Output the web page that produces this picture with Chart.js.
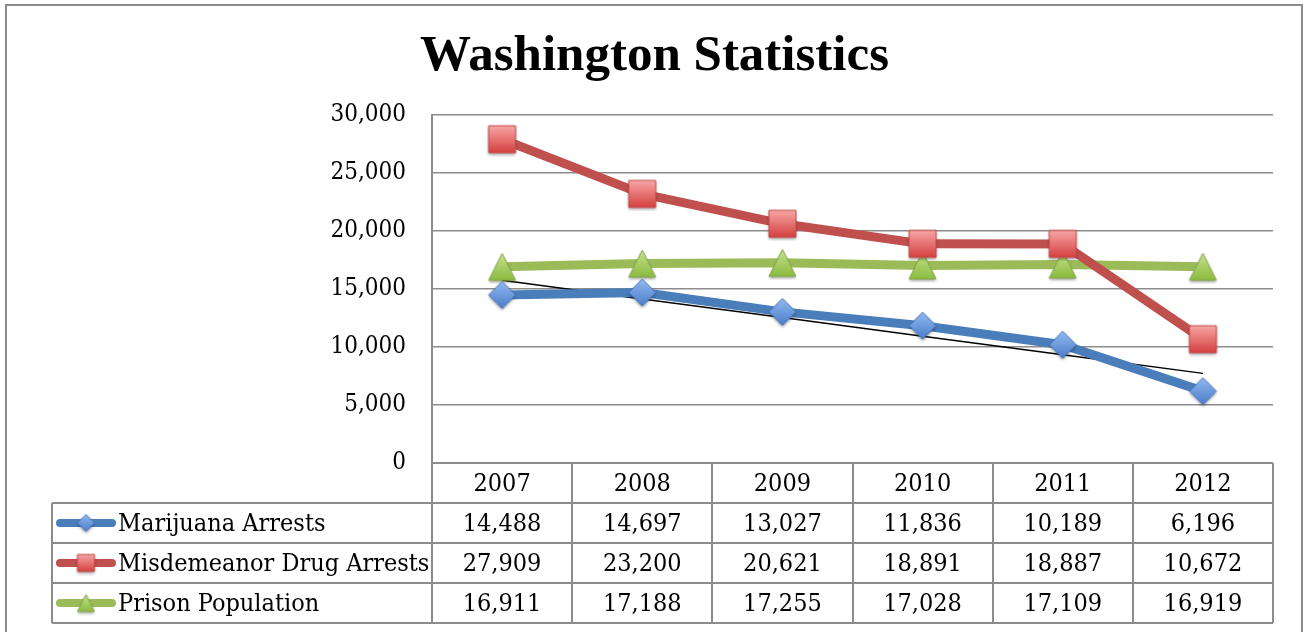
<!DOCTYPE html>
<html>
<head>
<meta charset="utf-8">
<title>Washington Statistics</title>
<script src="https://cdn.jsdelivr.net/npm/chart.js@4/dist/chart.umd.min.js"></script>
<style>
  html, body { margin: 0; padding: 0; background: #fff; }
  #wrap { width: 1304px; height: 632px; }
</style>
</head>
<body>
<div id="wrap"><canvas id="chart" width="1304" height="632"></canvas></div>
<script>
// ---- data ----
const years = ['2007', '2008', '2009', '2010', '2011', '2012'];
const marijuanaArrests = [14488, 14697, 13027, 11836, 10189, 6196];
const misdemeanorArrests = [27909, 23200, 20621, 18891, 18887, 10672];
const prisonPopulation = [16911, 17188, 17255, 17028, 17109, 16919];
const seriesNames = ['Marijuana Arrests', 'Misdemeanor Drug Arrests', 'Prison Population'];
const yTicks = [0, 5000, 10000, 15000, 20000, 25000, 30000];

const FONT = "'DejaVu Serif Condensed', 'DejaVu Serif', serif";
const TITLE_FONT = "'Liberation Serif', 'DejaVu Serif', serif";
const GRID = '#8c8c8c';
const COLORS = ['#4a7ebb', '#c0504d', '#9bbb59'];

// least squares trendline (same as the spreadsheet's linear trend)
function linearFit(values) {
    const n = values.length;
    const mx = (n - 1) / 2;
    const my = values.reduce((a, b) => a + b, 0) / n;
    let sxy = 0, sxx = 0;
    values.forEach((v, i) => { sxy += (i - mx) * (v - my); sxx += (i - mx) * (i - mx); });
    const slope = sxy / sxx;
    return values.map((v, i) => my + slope * (i - mx));
}

// marker images with a light gradient, like the office default
function makeMarker(shape, size, top, bottom, stroke) {
    const pad = 4;
    const c = document.createElement('canvas');
    c.width = size + pad * 2;
    c.height = size + pad * 2;
    const g = c.getContext('2d');
    const x0 = pad, y0 = pad, s = size;
    g.beginPath();
    if (shape === 'diamond') {
        g.moveTo(x0 + s / 2, y0);
        g.lineTo(x0 + s, y0 + s / 2);
        g.lineTo(x0 + s / 2, y0 + s);
        g.lineTo(x0, y0 + s / 2);
    } else if (shape === 'square') {
        g.rect(x0, y0, s, s);
    } else {
        g.moveTo(x0 + s / 2, y0);
        g.lineTo(x0 + s, y0 + s);
        g.lineTo(x0, y0 + s);
    }
    g.closePath();
    const grad = g.createLinearGradient(0, y0, 0, y0 + s);
    grad.addColorStop(0, top);
    grad.addColorStop(1, bottom);
    g.save();
    g.shadowColor = 'rgba(0,0,0,0.35)';
    g.shadowBlur = 3;
    g.shadowOffsetY = 2;
    g.fillStyle = grad;
    g.fill();
    g.restore();
    g.lineWidth = 1;
    g.strokeStyle = stroke;
    g.stroke();
    return c;
}

const markerDefs = [
    ['diamond', '#93b9ee', '#4a7dcc', '#4272b6'],
    ['square', '#f8a6a6', '#d43f3f', '#c24a4a'],
    ['triangle', '#c8e190', '#8abb3e', '#84a64a']
];
const bigMarkers = markerDefs.map(d => makeMarker(d[0], 27, d[1], d[2], d[3]));
const smallMarkers = markerDefs.map(d => makeMarker(d[0], 17, d[1], d[2], d[3]));

const seriesData = [marijuanaArrests, misdemeanorArrests, prisonPopulation];

// ---- plugins ----
const frame = {
    id: 'frame',
    beforeDraw(chart) {
        const ctx = chart.ctx;
        ctx.save();
        ctx.fillStyle = '#fff';
        ctx.fillRect(0, 0, chart.width, chart.height);
        ctx.strokeStyle = GRID;
        ctx.lineWidth = 2;
        ctx.strokeRect(6, 5, 1296, 700);
        ctx.restore();
    }
};

const dataTable = {
    id: 'dataTable',
    afterDraw(chart) {
        const ctx = chart.ctx;
        const area = chart.chartArea;
        const colW = (area.right - area.left) / years.length;
        const rowH = 40;
        const top = area.bottom;
        const tableLeft = 52;
        const bottom = top + rowH * 4;

        ctx.save();
        ctx.strokeStyle = GRID;
        ctx.lineWidth = 2;
        ctx.beginPath();
        // horizontal rules
        ctx.moveTo(area.left, top); ctx.lineTo(area.right, top);
        for (let r = 1; r <= 4; r++) {
            ctx.moveTo(tableLeft, top + r * rowH);
            ctx.lineTo(area.right, top + r * rowH);
        }
        // vertical rules
        ctx.moveTo(tableLeft, top + rowH); ctx.lineTo(tableLeft, bottom);
        for (let c = 0; c <= years.length; c++) {
            const x = Math.round(area.left + c * colW);
            ctx.moveTo(x, top); ctx.lineTo(x, bottom);
        }
        ctx.stroke();

        ctx.fillStyle = '#000';
        ctx.font = '25px ' + FONT;
        ctx.textBaseline = 'middle';
        ctx.textAlign = 'center';
        years.forEach((y, i) => {
            const x = chart.scales.x.getPixelForValue(i);
            ctx.fillText(y, x, top + rowH / 2 + 1);
            seriesData.forEach((vals, s) => {
                ctx.fillText(vals[i].toLocaleString('en-US'), x, top + rowH * (s + 1.5) + 1);
            });
        });

        // legend keys
        seriesNames.forEach((name, s) => {
            const cy = top + rowH * (s + 1.5);
            ctx.strokeStyle = COLORS[s];
            ctx.lineWidth = 8;
            ctx.lineCap = 'round';
            ctx.beginPath();
            ctx.moveTo(60, cy); ctx.lineTo(112, cy);
            ctx.stroke();
            const m = smallMarkers[s];
            ctx.drawImage(m, 86 - m.width / 2, cy - m.height / 2);
            ctx.textAlign = 'left';
            ctx.fillStyle = '#000';
            ctx.fillText(name, 118, cy + 1);
        });
        ctx.restore();
    }
};

const seriesDatasets = seriesData.map((vals, s) => ({
    label: seriesNames[s],
    data: vals,
    borderColor: COLORS[s],
    backgroundColor: COLORS[s],
    borderWidth: 9,
    borderJoinStyle: 'round',
    borderCapStyle: 'round',
    pointStyle: bigMarkers[s],
    pointRadius: 14,
    pointHoverRadius: 14,
    tension: 0
}));

const trendDatasets = [marijuanaArrests, prisonPopulation].map(vals => ({
    label: 'trend',
    data: linearFit(vals),
    borderColor: '#000',
    borderWidth: 1.5,
    pointRadius: 0,
    pointHoverRadius: 0,
    tension: 0
}));

new Chart(document.getElementById('chart'), {
    type: 'line',
    data: { labels: years, datasets: seriesDatasets.concat(trendDatasets) },
    plugins: [frame, dataTable],
    options: {
        responsive: false,
        animation: false,
        layout: { padding: { left: 36, right: 31, top: 0, bottom: 0 } },
        plugins: {
            legend: { display: false },
            tooltip: { enabled: false },
            title: {
                display: true,
                text: 'Washington Statistics',
                color: '#000',
                font: { family: TITLE_FONT, size: 51, weight: 'bold', lineHeight: 1.2 },
                padding: { top: 26, bottom: 27.8 }
            }
        },
        scales: {
            x: {
                offset: true,
                grid: { display: false },
                border: { display: false },
                ticks: { display: false },
                afterFit(scale) { scale.height = 169; }
            },
            y: {
                min: 0,
                max: 30000,
                afterBuildTicks(scale) { scale.ticks = yTicks.map(v => ({ value: v })); },
                grid: { color: GRID, lineWidth: 1.5, drawTicks: false },
                border: { display: true, color: GRID, width: 2 },
                ticks: {
                    color: '#000',
                    padding: 26,
                    font: { family: FONT, size: 24 },
                    callback: v => v.toLocaleString('en-US')
                },
                afterFit(scale) { scale.width = 396; }
            }
        }
    }
});
</script>
</body>
</html>
